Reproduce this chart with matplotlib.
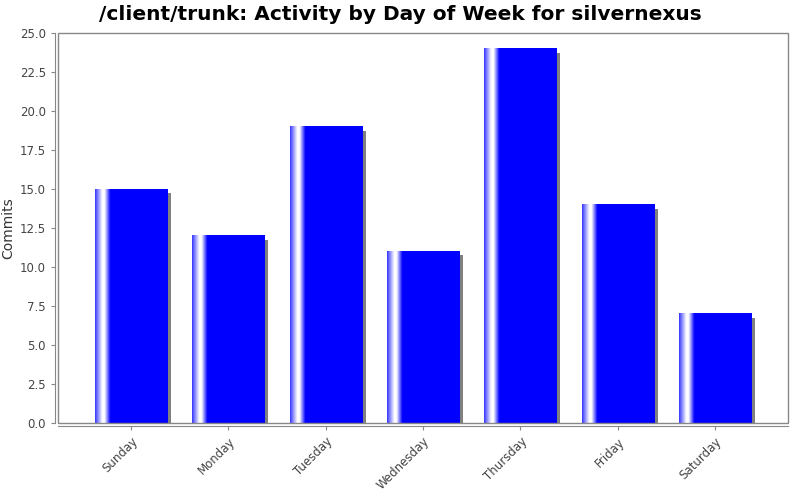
import numpy as np
import matplotlib
matplotlib.use('Agg')
import matplotlib.pyplot as plt
from matplotlib.patches import Rectangle
from matplotlib.transforms import ScaledTranslation

days = ['Sunday', 'Monday', 'Tuesday', 'Wednesday', 'Thursday', 'Friday', 'Saturday']
commits = [15, 12, 19, 11, 24, 14, 7]
yticks = [0.0, 2.5, 5.0, 7.5, 10.0, 12.5, 15.0, 17.5, 20.0, 22.5, 25.0]

fig = plt.figure(figsize=(8, 5), dpi=100)
ax = fig.add_axes([58/800, 1-423/500, 730/800, 390/500])

# gradient profile across a bar: blue -> white -> blue, then solid
n = 300
t = np.linspace(0, 1, n)
w = np.interp(t, [0, 0.03, 0.1, 0.13, 0.21, 1], [0.2, 0.45, 1.0, 1.0, 0.0, 0.0])
grad = np.zeros((1, n, 3))
grad[0, :, 0] = w
grad[0, :, 1] = w
grad[0, :, 2] = 1.0

bw = 0.74
shadow = ax.transData + ScaledTranslation(4/100, -4/100, fig.dpi_scale_trans)
x = np.arange(len(days))
ax.bar(x, commits, width=bw, color='#808080', transform=shadow, zorder=1)
for xi, v in zip(x, commits):
    ax.imshow(grad, extent=(xi-bw/2, xi+bw/2, 0, v), aspect='auto', zorder=2,
              interpolation='bilinear')

ax.set_xlim(-0.75, len(days)-0.25)
ax.set_ylim(0, 25)
ax.set_yticks(yticks)
ax.set_yticklabels([f'{v:.1f}' for v in yticks])
ax.set_xticks(x)
ax.set_xticklabels(days)

for s in ['top', 'right']:
    ax.spines[s].set_visible(False)
for s in ['left', 'bottom']:
    ax.spines[s].set_position(('outward', 3*0.72))
    ax.spines[s].set_color('#888888')
ax.add_patch(Rectangle((0, 0), 1, 1, transform=ax.transAxes, fill=False,
                       edgecolor='#888888', lw=1, zorder=5, clip_on=False))

ax.tick_params(colors='#888888', labelcolor='#444444', labelsize=8.5, length=3)
plt.setp(ax.get_xticklabels(), rotation=45, ha='right', va='top',
         rotation_mode='anchor')
ax.set_ylabel('Commits', fontsize=10, color='#333333', labelpad=3.5)
fig.suptitle('/client/trunk: Activity by Day of Week for silvernexus',
             fontsize=14.5, fontweight='bold', y=0.99, va='top')

fig.savefig('out.png', dpi=100)
